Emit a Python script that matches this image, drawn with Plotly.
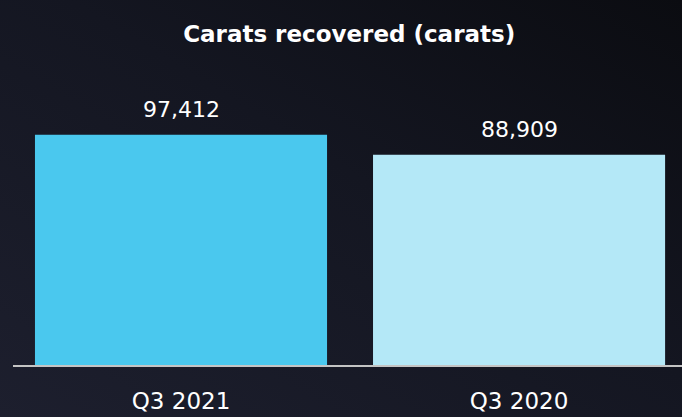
import plotly.graph_objects as go

categories = ["Q3 2021", "Q3 2020"]
carats = [97412, 88909]
bar_colors = ["#4AC8EE", "#B4E8F7"]
title_text = "Carats recovered (carats)"

W, H = 682, 417
ml, mr, mt, mb = 13, 0, 105, 52

# dark diagonal gradient for the background
bg_svg = (
    "data:image/svg+xml;utf8,"
    "<svg xmlns='http://www.w3.org/2000/svg' width='682' height='417' preserveAspectRatio='none'>"
    "<defs><linearGradient id='g' x1='0' y1='1' x2='1' y2='0'>"
    "<stop offset='0' stop-color='%231d1f2e'/>"
    "<stop offset='0.55' stop-color='%23141621'/>"
    "<stop offset='1' stop-color='%230b0c11'/>"
    "</linearGradient></defs>"
    "<rect width='682' height='417' fill='url(%23g)'/></svg>"
)

pw = W - ml - mr
ph = H - mt - mb
FONT = "DejaVu Sans"

fig = go.Figure()
fig.add_trace(go.Bar(
    x=categories,
    y=carats,
    marker=dict(color=bar_colors, line_width=0),
    width=0.864,
    hoverinfo="skip",
))

for cat, val in zip(categories, carats):
    fig.add_annotation(
        x=cat, y=val, text=f"{val:,}", showarrow=False,
        yanchor="bottom", yshift=11,
        font=dict(family=FONT, size=22, color="white"),
    )

fig.update_layout(
    width=W, height=H,
    margin=dict(l=ml, r=mr, t=mt, b=mb),
    paper_bgcolor="#14161f",
    plot_bgcolor="rgba(0,0,0,0)",
    showlegend=False,
    title=dict(
        text="<b>" + title_text + "</b>",
        x=0.512, xanchor="center", y=0.918, yanchor="middle",
        font=dict(family=FONT, size=23, color="white"),
    ),
    images=[dict(
        source=bg_svg, xref="paper", yref="paper",
        x=-ml / pw, y=1 + mt / ph, sizex=W / pw, sizey=H / ph,
        xanchor="left", yanchor="top", sizing="stretch", layer="below",
    )],
)
fig.update_xaxes(
    range=[-0.497, 1.482],
    showline=True, linecolor="#c4c4c4", linewidth=2,
    showgrid=False, zeroline=False, ticks="",
    tickfont=dict(family=FONT, size=23, color="white"),
    ticklabelstandoff=14,
)
fig.update_yaxes(range=[0, 110000], visible=False, showgrid=False)

fig.write_html(
    "out.html",
    config={"displayModeBar": False},
    post_script="document.body.style.margin='0';document.body.style.overflow='hidden';",
)
